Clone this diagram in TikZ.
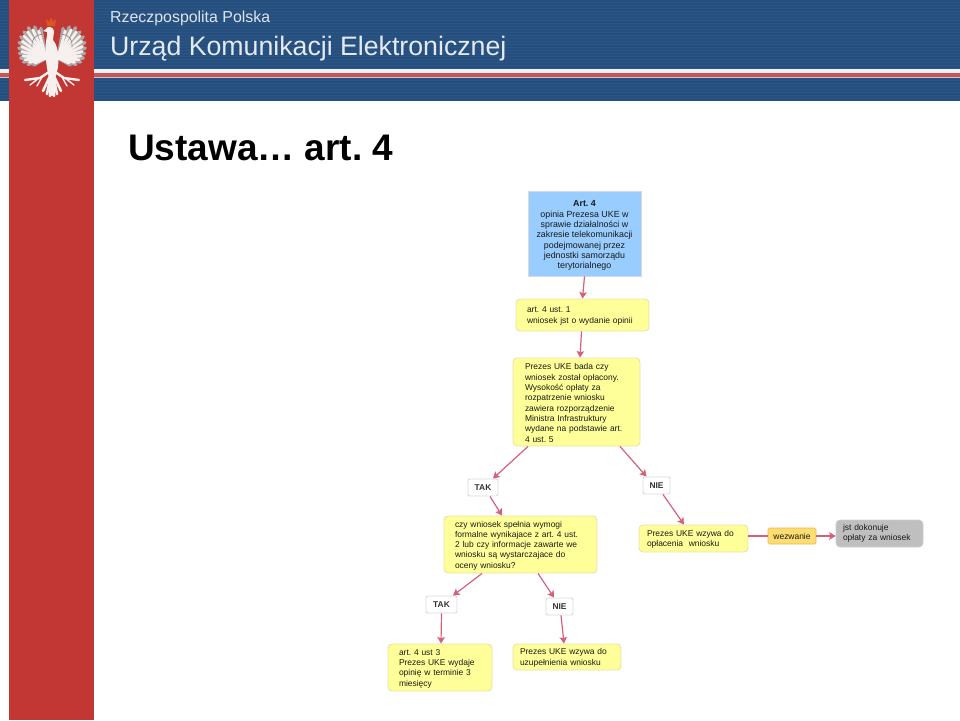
\documentclass[tikz,border=0pt]{standalone}
\usepackage{fontspec}
\setmainfont{Liberation Sans}
\usetikzlibrary{arrows.meta}
\definecolor{ukeblue}{HTML}{244F7F}
\definecolor{ukered}{HTML}{C23633}
\definecolor{linkpink}{HTML}{D5607A}
\definecolor{boxyellow}{HTML}{FFFF99}
\definecolor{boxedge}{HTML}{E6E2AE}
\definecolor{headblue}{HTML}{99CCFF}
\definecolor{callfill}{HTML}{FFDD70}
\definecolor{calledge}{HTML}{E8B850}
\definecolor{eaglewhite}{HTML}{F6F0EE}
\tikzset{
  rulebox/.style={draw=boxedge, line width=0.9pt, fill=boxyellow, rounded corners=4pt, inner sep=0pt, font=\fontsize{8.45}{10.3}\selectfont\frenchspacing, align=left, text=black!90, execute at begin node={\rule{0pt}{8pt}}},
  answerbox/.style={draw=black!15, line width=0.9pt, fill=white, rounded corners=2pt, inner sep=0pt, font=\fontsize{8.4}{10}\selectfont\bfseries, text=black!80},
  link/.style={draw=linkpink, line width=1.2pt, -{Stealth[length=6.5pt,width=7.5pt,inset=1.2pt]}},
  plainlink/.style={draw=linkpink, line width=1.2pt}
}
\begin{document}
\begin{tikzpicture}[x=1pt, y=-1pt]
    \useasboundingbox (0, 0) rectangle (960, 720);
    % Slide header
    \fill[ukeblue] (0, 0) rectangle (960, 101);
    \foreach \ypos in {2, 5, ..., 100} {
        \draw[white, opacity=0.04, line width=0.8pt] (0, \ypos) -- (960, \ypos);
    }
    \fill[white!92!ukeblue] (0, 69) rectangle (960, 73);
    \fill[ukered!85!white] (0, 73) rectangle (960, 76.5);
    \fill[white!70!ukeblue] (0, 76.5) rectangle (960, 77.5);
    \fill[ukered] (9, 0) rectangle (94, 720);
    \node[anchor=base west, inner sep=0pt, font=\fontsize{15.9}{18}\selectfont, text=white!85!ukeblue] (republic) at (110, 22) {Rzeczpospolita Polska};
    \node[anchor=base west, inner sep=0pt, font=\fontsize{26.7}{30}\selectfont, text=white!88!ukeblue] (office) at (110, 55) {Urząd Komunikacji Elektronicznej};
    \node[anchor=base west, inner sep=0pt, font=\fontsize{37}{42}\selectfont\bfseries\frenchspacing, text=black] (slidetitle) at (128, 160) {Ustawa… art. 4};

    % Eagle
    \foreach \side in {-1, 1} {
        \begin{scope}[shift={(52, 0)}, xscale=\side]
            \foreach \ang/\len in {-80/30, -70/33, -60/35, -50/34, -40/33, -30/31, -20/29, -10/27, 0/25, 10/23, 20/19, 30/14} {
                \draw[black!30!eaglewhite, line width=3.4pt, line cap=round] (6, 58) -- ++(\ang:\len);
            }
            \foreach \ang/\len in {-75/28, -65/31, -55/32, -45/31, -35/29, -25/27, -15/25, -5/23, 5/21, 15/17, 25/12} {
                \draw[eaglewhite, line width=2.8pt, line cap=round] (6, 58) -- ++(\ang:\len);
            }
            \draw[black!45!eaglewhite, line width=0.7pt] (10, 34) .. controls (17, 35) and (21, 40) .. (20, 47);
            \draw[eaglewhite, line width=2.4pt, line cap=round] (3, 72) -- (12, 78) -- (27, 80);
            \draw[eaglewhite, line width=1.4pt, line cap=round] (13, 78) -- (22, 85);
            \draw[eaglewhite, line width=1.4pt, line cap=round] (10, 77) -- (15, 86);
            \foreach \tx/\ty in {9/91, 5/94, 2/96} {
                \draw[eaglewhite, line width=2.6pt, line cap=round] (1, 74) -- (\tx, \ty);
            }
        \end{scope}
    }
    \fill[eaglewhite] (47, 36) .. controls (44, 48) and (46, 66) .. (49, 78) -- (49, 94) -- (52, 96) -- (55, 94) -- (55, 78) .. controls (60, 66) and (60, 48) .. (53, 40) -- (54, 31) .. controls (53, 26) and (47, 26) .. (46, 29) -- (43, 31) -- (47, 32) -- cycle;
    \fill[ukered!55!orange] (47, 26) -- (46, 19) -- (49, 22) -- (51, 17.5) -- (53, 22) -- (56, 19) -- (55, 26) -- cycle;

    % Opinion flow
    \node[draw=black!15, line width=0.8pt, fill=headblue, inner sep=0pt, minimum width=113pt, minimum height=85pt, align=center, font=\fontsize{8.85}{10.3}\selectfont\frenchspacing, text=black!90] (artfour) at (584.5, 233.5) {\rule{0pt}{10.5pt}{\bfseries Art. 4}\\opinia Prezesa UKE w\\sprawie działalności w\\zakresie telekomunikacji\\podejmowanej przez\\jednostki samorządu\\terytorialnego};
    \node[rulebox, minimum width=133pt, minimum height=32pt, text width=111pt] (ustone) at (582.5, 315) {art. 4 ust. 1\\wniosek jst o wydanie opinii};
    \node[rulebox, minimum width=127pt, minimum height=88pt, text width=103pt] (paycheck) at (576.5, 402) {Prezes UKE bada czy\\wniosek został opłacony.\\Wysokość opłaty za\\rozpatrzenie wniosku\\zawiera rozporządzenie\\Ministra Infrastruktury\\wydane na podstawie art.\\4 ust. 5};
    \node[answerbox, minimum width=30pt, minimum height=17pt] (yesone) at (483, 487.5) {TAK};
    \node[answerbox, minimum width=27pt, minimum height=17pt] (noone) at (656.5, 485.5) {NIE};
    \node[rulebox, minimum width=153pt, minimum height=57pt, text width=131pt] (formcheck) at (520.5, 544.5) {czy wniosek spełnia wymogi\\formalne wynikajace z art. 4 ust.\\2 lub czy informacje zawarte we\\wniosku są wystarczajace do\\oceny wniosku?};
    \node[rulebox, minimum width=109pt, minimum height=27pt, text width=93pt] (callpay) at (693.5, 538.5) {Prezes UKE wzywa do\\opłacenia~ wniosku};
    \node[draw=calledge, line width=0.7pt, fill=callfill, rounded corners=1.5pt, inner sep=0pt, minimum width=48pt, minimum height=16pt, font=\fontsize{8.45}{10}\selectfont, text=black!90] (summons) at (792, 536) {wezwanie};
    \node[draw=black!20, line width=0.6pt, fill=black!25, rounded corners=4pt, inner sep=0pt, minimum width=87pt, minimum height=27pt, text width=73pt, align=left, font=\fontsize{8.45}{10}\selectfont\frenchspacing, text=black!90] (paid) at (879.5, 533.5) {jst dokonuje\\opłaty za wniosek};
    \node[answerbox, minimum width=31pt, minimum height=17pt] (yestwo) at (441.5, 604.5) {TAK};
    \node[answerbox, minimum width=27pt, minimum height=17pt] (notwo) at (559.5, 606.5) {NIE};
    \node[rulebox, minimum width=104pt, minimum height=47pt, text width=82pt] (opinion) at (440, 667.5) {art. 4 ust 3\\Prezes UKE wydaje\\opinię w terminie 3\\miesięcy};
    \node[rulebox, minimum width=108pt, minimum height=26pt, text width=94pt] (callfix) at (567, 657) {Prezes UKE wzywa do\\uzupełnienia wniosku};

    % Arrows
    \draw[link] (artfour.south) -- (ustone.north);
    \draw[link] ([xshift=-1pt]ustone.south) -- ([xshift=3.5pt]paycheck.north);
    \draw[link] ([xshift=-48.5pt]paycheck.south) -- ([xshift=10pt]yesone.north);
    \draw[link] ([xshift=43.5pt]paycheck.south) -- ([xshift=-10pt]noone.north);
    \draw[link] ([xshift=7pt]yesone.south) -- ([xshift=-18.5pt]formcheck.north);
    \draw[link] ([xshift=6.5pt]noone.south) -- ([xshift=-9.5pt]callpay.north);
    \draw[plainlink] (callpay.east |- summons.west) -- (summons.west);
    \draw[link] (summons.east) -- (paid.west |- summons.east);
    \draw[link] ([xshift=-38.5pt]formcheck.south) -- ([xshift=11.5pt]yestwo.north);
    \draw[link] ([xshift=17.5pt]formcheck.south) -- ([xshift=-5.5pt]notwo.north);
    \draw[link] (yestwo.south) -- ([xshift=1pt]opinion.north);
    \draw[link] ([xshift=1.5pt]notwo.south) -- ([xshift=-3pt]callfix.north);
\end{tikzpicture}
\end{document}
